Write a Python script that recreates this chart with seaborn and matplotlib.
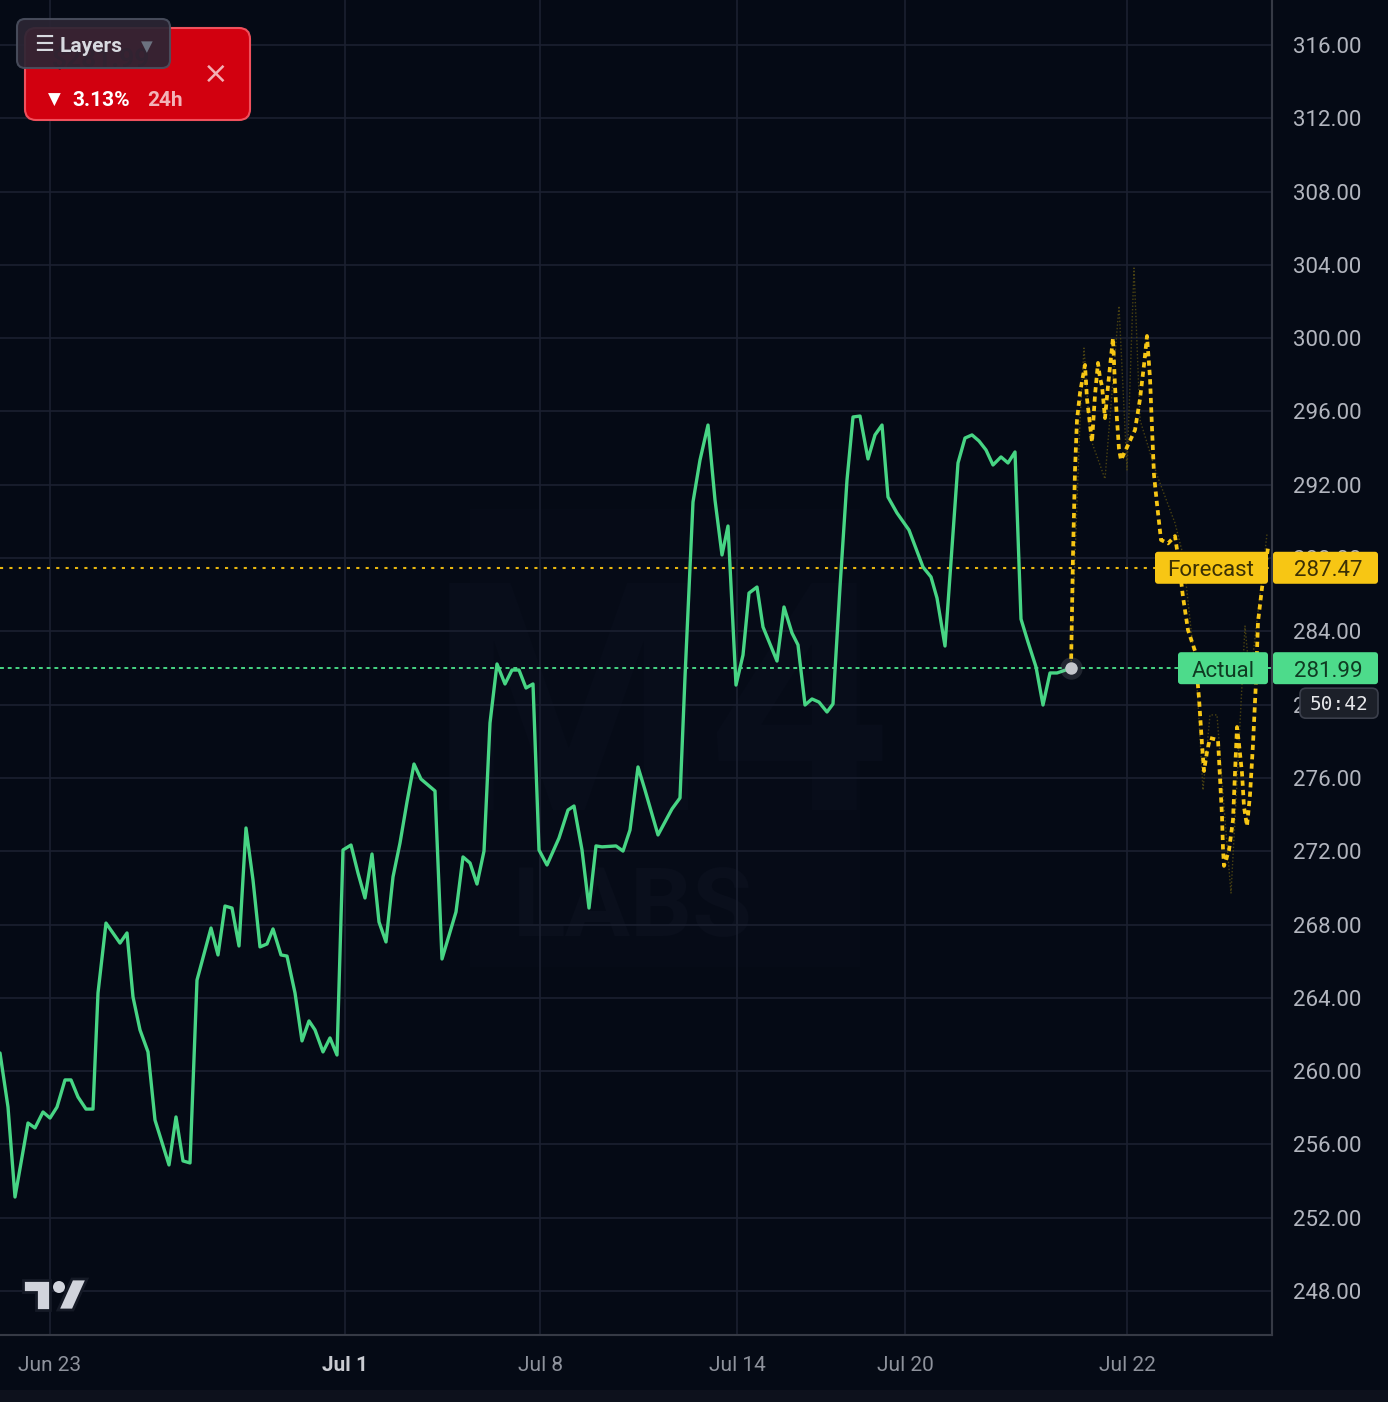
import numpy as np
import matplotlib
matplotlib.use("Agg")
import matplotlib.pyplot as plt
import seaborn as sns
from matplotlib.patches import FancyBboxPatch, Rectangle, Circle, Polygon
from matplotlib.transforms import Affine2D

# ---------------- data ----------------
actual_bar = [0, 8, 15, 28, 35, 43, 50, 57, 65, 71, 78, 86, 93, 98, 106, 120, 127, 133, 140, 148,
              155, 169, 176, 183, 190, 197, 211, 218, 225, 232, 239, 246, 253, 260, 267, 273, 281, 287, 295, 302,
              309, 315, 323, 330, 337, 343, 351, 358, 365, 372, 379, 386, 393, 400, 407, 414, 421, 435, 442, 456,
              463, 470, 477, 484, 490, 497, 505, 512, 519, 526, 533, 539, 547, 559, 568, 574, 582, 589, 596, 602,
              616, 623, 630, 638, 645, 658, 672, 680, 685, 693, 700, 708, 715, 722, 728, 736, 743, 749, 757, 763,
              777, 784, 792, 798, 805, 812, 819, 827, 833, 840, 847, 853, 860, 868, 875, 882, 888, 897, 909, 923,
              931, 937, 945, 958, 965, 972, 979, 986, 993, 1001, 1008, 1015, 1021, 1028, 1036, 1043, 1050, 1057, 1071]
actual_price = [260.99, 258.04, 253.13, 257.17, 256.90, 257.77, 257.44, 258.04, 259.52, 259.52, 258.59, 257.93, 257.93,
                264.27, 268.08, 266.99, 267.54, 264.05, 262.25, 261.05,
                257.33, 254.88, 257.50, 255.10, 254.99, 264.97, 267.81, 266.34, 269.01, 268.90, 266.83, 273.27, 270.43,
                266.78, 266.94, 267.76, 266.34, 266.28, 264.27, 261.65,
                262.74, 262.25, 261.05, 261.81, 260.88, 272.07, 272.34, 270.81, 269.45, 271.85, 268.14, 267.05, 270.60,
                272.45, 274.69, 276.76, 275.94, 275.29, 266.12, 268.69,
                271.69, 271.36, 270.21, 272.01, 279.00, 282.22, 281.13, 281.89, 281.89, 280.91, 281.13, 272.07, 271.25,
                272.72, 274.25, 274.47, 272.07, 268.90, 272.29, 272.24,
                272.29, 272.01, 273.16, 276.60, 275.34, 272.89, 274.31, 274.91, 281.51, 291.06, 293.35, 295.26, 291.17,
                288.17, 289.75, 281.07, 282.71, 286.09, 286.42, 284.24,
                282.38, 285.33, 283.91, 283.26, 279.98, 280.31, 280.14, 279.60, 280.04, 286.42, 292.26, 295.70, 295.75,
                293.41, 294.72, 295.26, 291.33, 290.46, 289.53, 287.51,
                286.97, 285.82, 283.20, 293.19, 294.55, 294.72, 294.39, 293.90, 293.08, 293.52, 293.19, 293.79, 284.67,
                283.42, 282.06, 279.98, 281.73, 281.73, 281.99]

forecast_bar = [1071, 1073, 1075, 1077, 1080, 1083, 1085, 1087, 1089, 1092, 1093, 1095, 1098, 1100, 1102, 1105, 1108,
                1111, 1113, 1115, 1117, 1119, 1121, 1128, 1135, 1140, 1144, 1147, 1150, 1152, 1154, 1157, 1161, 1168,
                1175, 1179, 1183, 1188, 1195, 1199, 1202, 1204, 1207, 1210, 1218, 1220, 1222, 1223, 1224, 1229, 1233,
                1235, 1237, 1239, 1242, 1244, 1247, 1250, 1253, 1256, 1258, 1262, 1268]
forecast_price = [281.99, 288.17, 292.81, 295.54, 297.01, 297.94, 298.54, 296.68, 295.75, 294.33, 295.21, 296.90,
                  298.65, 297.83, 297.39, 295.64, 297.39, 298.97, 300.01, 297.39, 295.54, 293.95, 293.35, 294.17,
                  294.99, 296.68, 298.54, 300.12, 297.83, 295.10, 292.53, 290.95, 288.99, 288.80, 289.20, 287.73,
                  285.88, 284.07, 282.93, 280.36, 277.85, 276.38, 277.42, 278.18, 278.07, 276.00, 273.92, 272.12,
                  271.20, 272.05, 273.71, 276.27, 278.78, 277.85, 276.27, 274.42, 273.38, 275.07, 277.85, 281.29,
                  284.51, 286.37, 288.55]

alt_bar = [1071, 1080, 1084, 1090, 1105, 1119, 1127, 1134, 1140, 1157, 1175, 1183, 1197, 1203, 1210, 1217, 1225,
           1231, 1237, 1245, 1250, 1267]
alt_price = [281.99, 295.54, 299.46, 294.61, 292.32, 301.76, 292.81, 303.83, 295.54, 292.53, 289.91, 288.17, 281.07,
             275.34, 279.44, 279.44, 273.71, 269.72, 275.78, 284.29, 281.29, 289.31]

date_ticks = [50, 345, 540, 737, 905, 1127]
date_labels = ["Jun 23", "Jul 1", "Jul 8", "Jul 14", "Jul 20", "Jul 22"]
price_ticks = [248, 252, 256, 260, 264, 268, 272, 276, 280, 284, 288, 292, 296, 300, 304, 308, 312, 316]

last_actual = 281.99
last_forecast = 287.47
change_pct = 3.13
countdown = "50:42"

# ---------------- style ----------------
BG = "#050a15"
GRID = "#1b2030"
GREEN = "#47d584"
YELLOW = "#f7c614"
TICK = "#b2b5be"

sns.set_theme(style="dark", rc={
    "axes.facecolor": BG, "figure.facecolor": BG, "savefig.facecolor": BG,
    "grid.color": GRID, "axes.edgecolor": "#363a45",
})
plt.rcParams["font.family"] = ["Roboto", "DejaVu Sans"]

W, H = 1388, 1402
fig = plt.figure(figsize=(W / 100, H / 100), dpi=100)
ax = fig.add_axes([0, 67 / H, 1272 / W, 1335 / H])
ax.set_facecolor(BG)
pxT = Affine2D().scale(1 / W, -1 / H).translate(0, 1) + fig.transFigure

# bottom strip
fig.add_artist(Rectangle((0, 1390), W, 12, transform=pxT, fc="#0d111c", ec="none", zorder=0))

ax.set_xlim(0, 1272)
ax.set_ylim(245.60, 318.456)

# watermark (very faint)
ax.add_patch(Rectangle((470, 265.7), 390, 25.0, fc="#060b17", ec="none", zorder=0))
ax.text(660, 279, "M4", ha="center", va="center", fontsize=230, fontweight="bold", color="#080d1a", zorder=0.5)
ax.text(633, 268.8, "LABS", ha="center", va="center", fontsize=70, fontweight="bold", color="#0a0f1c", zorder=0.5)

# lines
sns.lineplot(x=alt_bar, y=alt_price, sort=False, estimator=None, ax=ax, color="#4a4212", lw=1.0, zorder=2)
ax.lines[-1].set_linestyle((0, (1, 1.5)))
sns.lineplot(x=actual_bar, y=actual_price, sort=False, estimator=None, ax=ax, color=GREEN, lw=2.4, zorder=3)
sns.lineplot(x=forecast_bar, y=forecast_price, sort=False, estimator=None, ax=ax, color=YELLOW, lw=2.7, zorder=4)
ax.lines[-1].set_linestyle((0, (1.4, 1.1)))

ax.axhline(last_forecast, color="#e8b60f", lw=1.5, ls=(0, (1.5, 3)), zorder=2)
ax.axhline(last_actual, color=GREEN, lw=1.4, ls=(0, (2, 2)), zorder=2)

ax.scatter([actual_bar[-1]], [last_actual], s=260, color="#c4c6cc", alpha=0.15, zorder=5, linewidths=0)
ax.scatter([actual_bar[-1]], [last_actual], s=80, color="#c4c6cc", zorder=6, linewidths=0)

# axes
ax.grid(True, color=GRID, lw=1.2)
ax.set_axisbelow(True)
for s in ["left", "top"]:
    ax.spines[s].set_visible(False)
for s in ["right", "bottom"]:
    ax.spines[s].set_visible(True)
    ax.spines[s].set_color("#363a45")
    ax.spines[s].set_linewidth(1.5)

ax.yaxis.tick_right()
ax.set_yticks(price_ticks)
ax.set_yticklabels([f"{v:.2f}" for v in price_ticks])
ax.tick_params(axis="y", length=0, pad=15, labelsize=16, colors=TICK)
ax.set_xticks(date_ticks)
ax.set_xticklabels(date_labels)
ax.tick_params(axis="x", length=0, pad=15, labelsize=15, colors="#8e929c")
xl = ax.get_xticklabels()
xl[1].set_fontweight("bold")
xl[1].set_color("#c9cbd1")
ax.set_xlabel("")
ax.set_ylabel("")

fig.canvas.draw()


def img_y(v):
    return H - ax.transData.transform((0, v))[1]


def box(x0, y0, x1, y1, fc, ec="none", lw=0, r=3, z=10, alpha=1.0):
    fig.add_artist(FancyBboxPatch((x0, y0), x1 - x0, y1 - y0, boxstyle=f"round,pad=0,rounding_size={r}",
                                  transform=pxT, fc=fc, ec=ec, lw=lw, zorder=z, alpha=alpha))


def txt(x, y, s, **kw):
    fig.text(x, y, s, transform=pxT, **kw)


# Forecast label
yf = img_y(last_forecast)
box(1155, yf - 16, 1268, yf + 16, YELLOW, r=3)
box(1273, yf - 16, 1378, yf + 16, YELLOW, r=3)
txt(1211, yf + 3, "Forecast", ha="center", va="center", fontsize=16, color="#3b3005", zorder=11)
txt(1328, yf + 3, f"{last_forecast:.2f}", ha="center", va="center", fontsize=16, color="#3b3005", zorder=11)

# Actual label
ya = img_y(last_actual)
box(1178, ya - 16, 1268, ya + 16, "#4ddb8b", r=3)
box(1273, ya - 16, 1378, ya + 16, "#4ddb8b", r=3)
txt(1223, ya + 3, "Actual", ha="center", va="center", fontsize=16, color="#0f3b22", zorder=11)
txt(1328, ya + 3, f"{last_actual:.2f}", ha="center", va="center", fontsize=16, color="#0f3b22", zorder=11)

# countdown
box(1300, ya + 20, 1378, ya + 50, "#1c2029", ec="#3b3f4b", lw=1.2, r=6)
txt(1339, ya + 36, countdown, ha="center", va="center", fontsize=14, color="#e6e7ea",
    family="DejaVu Sans Mono", zorder=11)

# top-left red widget
box(25, 28, 250, 120, "#d2000f", ec="#f0505c", lw=1.5, r=11, z=12)
txt(52, 60, "$281.99", ha="left", va="center", fontsize=19, fontweight="bold", color="#7a0a14", zorder=13)
txt(48, 100, "▼", ha="left", va="center", fontsize=12, color="white", family="DejaVu Sans", zorder=13)
txt(72, 100, f"{change_pct:.2f}%", ha="left", va="center", fontsize=15, fontweight="bold", color="white", zorder=13)
txt(147, 100, "24h", ha="left", va="center", fontsize=15, fontweight="bold", color="#f2b3b8", zorder=13)
txt(216, 74, "×", ha="center", va="center", fontsize=22, color="#f3b0b5", family="DejaVu Sans", zorder=13)

# Layers button
box(17, 19, 170, 68, "#2b2534", ec="#4a4f5e", lw=1.5, r=8, z=14, alpha=0.93)
txt(34, 45, "☰", ha="left", va="center", fontsize=16, color="#d8dae0", family="DejaVu Sans", zorder=15)
txt(60, 46, "Layers", ha="left", va="center", fontsize=15, fontweight="bold", color="#d8dae0", zorder=15)
txt(141, 47, "▼", ha="left", va="center", fontsize=11, color="#6c7280", family="DejaVu Sans", zorder=15)

# TradingView logo
LOGO = "#d1d4dc"
fig.add_artist(Polygon([(23, 1280), (50, 1280), (50, 1310), (36, 1310), (36, 1292), (23, 1292)], closed=True,
                       transform=pxT, fc=LOGO, ec="#151a26", lw=2, zorder=12))
fig.add_artist(Circle((59, 1287), 6, transform=pxT, fc=LOGO, ec="none", zorder=12))
fig.add_artist(Polygon([(58, 1310), (73, 1310), (87, 1279), (72, 1279)], closed=True,
                       transform=pxT, fc=LOGO, ec="#151a26", lw=2, zorder=12))

fig.savefig("out.png", dpi=100)
